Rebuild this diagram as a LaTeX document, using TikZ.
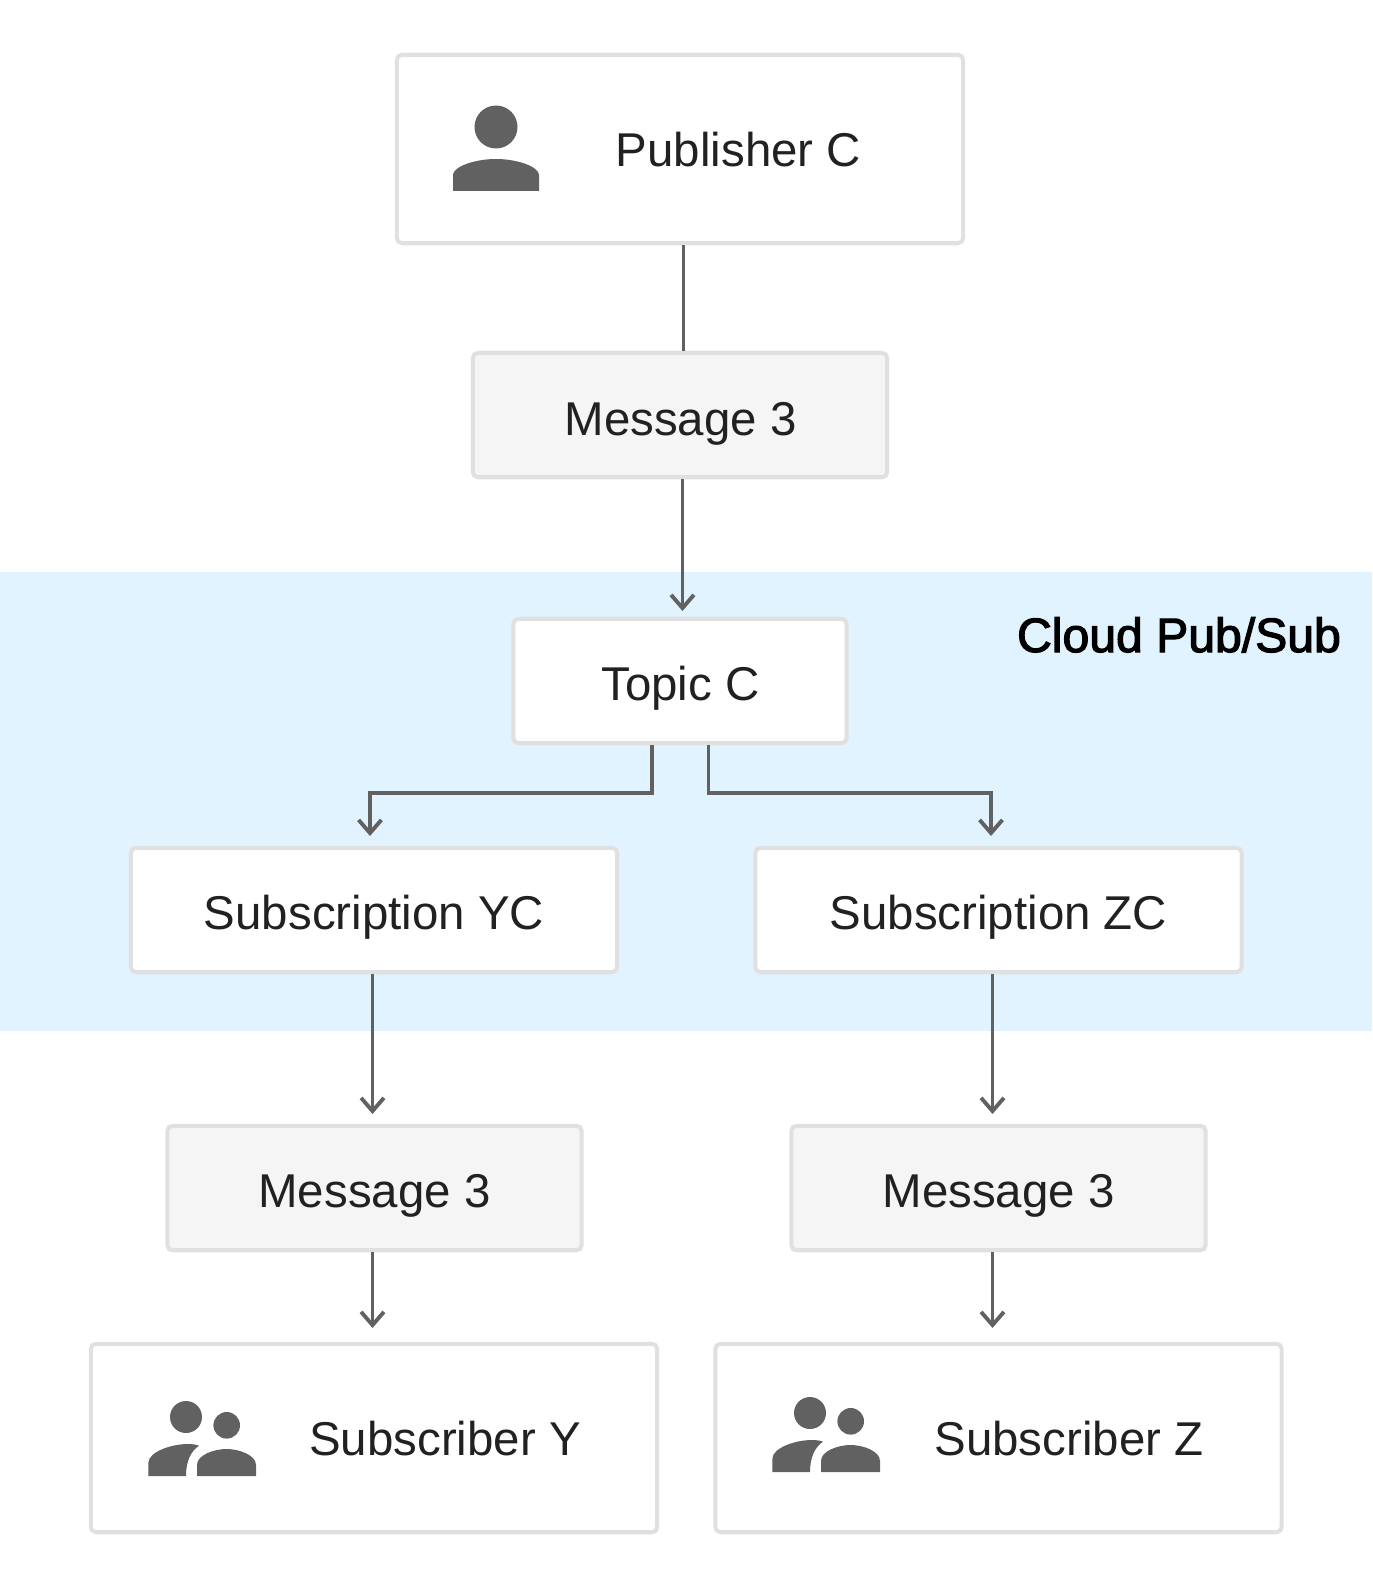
\documentclass[tikz,border=0pt]{standalone}
\usepackage{xcolor}
\usepackage{fontspec}
\usetikzlibrary{arrows.meta}
\setmainfont{Liberation Sans}
\newfontfamily\mediumfont[FakeBold=2.5]{Liberation Sans}
\definecolor{gcpblue}{HTML}{E1F3FE}
\definecolor{boxline}{HTML}{E0E0E0}
\definecolor{msgfill}{HTML}{F5F5F5}
\definecolor{inkgrey}{HTML}{616161}
\definecolor{textgrey}{HTML}{212121}
\tikzset{
  whitebox/.style={draw=boxline,fill=white,line width=2.3pt,rounded corners=3pt,
    inner sep=0pt},
  msgbox/.style={whitebox,fill=msgfill,minimum width=8.29cm,minimum height=2.49cm},
  tallbox/.style={whitebox,minimum width=11.33cm,minimum height=3.77cm},
  midbox/.style={whitebox,minimum height=2.49cm},
  caption/.style={anchor=base,text=textgrey,inner sep=0pt,
    font=\fontsize{27}{32}\selectfont},
  flow/.style={draw=inkgrey,line width=2.2pt},
  flowarrow/.style={flow,-{Straight Barb[length=7.5pt,width=13pt,line width=2.2pt]}},
  pics/personglyph/.style={code={
    \fill[inkgrey] (0,-24) circle (21.5);
    \fill[inkgrey] (-43,40) -- (-43,24) .. controls (-43,16) and (-22,8) .. (0,8)
      .. controls (22,8) and (43,16) .. (43,24) -- (43,40) -- cycle;
  }},
  pics/groupglyph/.style={code={
    \fill[inkgrey] (0,0) circle (16);
    \fill[inkgrey] (40.7,8.3) circle (13.3);
    \fill[inkgrey] (-37.7,59) -- (-37.7,46) .. controls (-37.7,35) and (-15,27) .. (2,27)
      .. controls (6,27) and (10,27.5) .. (13,28.7)
      .. controls (5,34) and (0,44) .. (0,59) -- cycle;
    \fill[inkgrey] (11,59) -- (11,48) .. controls (11,38) and (28,32) .. (40.5,32)
      .. controls (53,32) and (70,38) .. (70,48) -- (70,59) -- cycle;
  }},
}

\begin{document}
\begin{tikzpicture}[x=0.02cm,y=-0.02cm]
        \useasboundingbox (0,0) rectangle (1372,1578);
        \fill[gcpblue] (0,572) rectangle (1372,1031);

        \node[tallbox] (publisher) at (680,149) {};
        \node[msgbox] (msgtop) at (680,415) {};
        \node[midbox,minimum width=6.67cm] (topic) at (680,681) {};
        \node[midbox,minimum width=9.73cm] (subyc) at (374,910) {};
        \node[midbox,minimum width=9.73cm] (subzc) at (998.5,910) {};
        \node[msgbox] (msgleft) at (374.5,1188) {};
        \node[msgbox] (msgright) at (998.5,1188) {};
        \node[tallbox] (subscribery) at (374,1438) {};
        \node[tallbox] (subscriberz) at (998.5,1438) {};

        \node[caption] (publabel) at (738.5,166.5) {Publisher C};
        \node[caption] (msgtoplabel) at (680.5,435) {Message 3};
        \node[caption] (topiclabel) at (680.5,700.5) {Topic C};
        \node[caption] (subyclabel) at (374,929.5) {Subscription YC};
        \node[caption] (subzclabel) at (998.5,929.5) {Subscription ZC};
        \node[caption] (msgleftlabel) at (374.5,1207.5) {Message 3};
        \node[caption] (msgrightlabel) at (998.5,1207.5) {Message 3};
        \node[caption] (subylabel) at (445,1455) {Subscriber Y};
        \node[caption] (subzlabel) at (1069,1455) {Subscriber Z};
        \node[caption,text=black,font=\mediumfont\fontsize{27.4}{32}\selectfont] (cloudlabel) at (1179,652) {Cloud Pub/Sub};

        \pic at (496,151) {personglyph};
        \pic at (186,1417) {groupglyph};
        \pic at (810,1413) {groupglyph};

        \coordinate (topictip) at (682.5,611);
        \coordinate (lefttip) at (370,836);
        \coordinate (righttip) at (991,836);
        \coordinate (msglefttip) at (372.5,1114);
        \coordinate (msgrighttip) at (992.5,1114);
        \coordinate (subytip) at (372.5,1328);
        \coordinate (subztip) at (992.5,1328);

        \draw[flow] (publisher.south -| 683.5,0) -- (msgtop.north -| 683.5,0);
        \draw[flowarrow] (msgtop.south -| topictip) -- (topictip);
        \draw[flowarrow] (topic.south -| 652,0) -- (652,793) -- (370,793) -- (lefttip);
        \draw[flowarrow] (topic.south -| 708.5,0) -- (708.5,793) -- (991,793) -- (righttip);
        \draw[flowarrow] (subyc.south -| msglefttip) -- (msglefttip);
        \draw[flowarrow] (subzc.south -| msgrighttip) -- (msgrighttip);
        \draw[flowarrow] (msgleft.south -| subytip) -- (subytip);
        \draw[flowarrow] (msgright.south -| subztip) -- (subztip);
      \end{tikzpicture}
\end{document}
